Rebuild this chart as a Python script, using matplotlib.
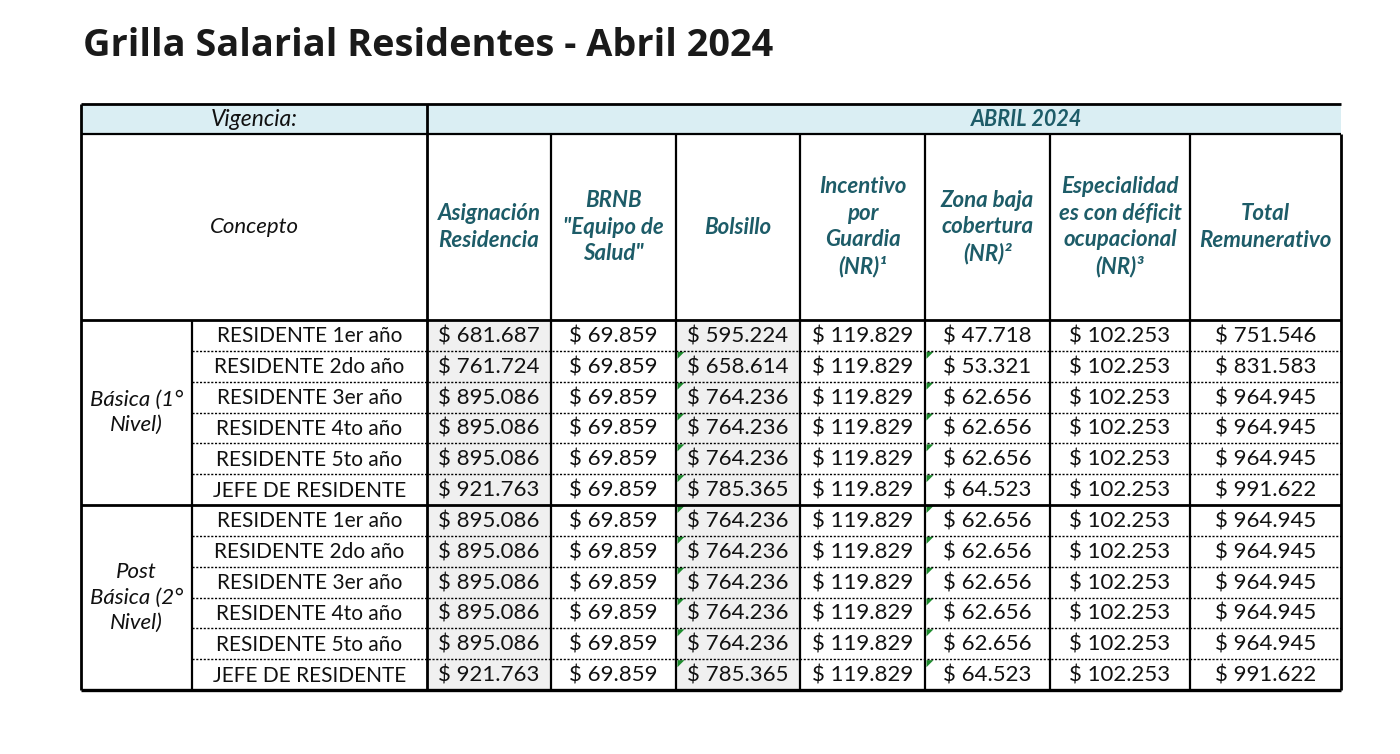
import matplotlib
matplotlib.use("Agg")
import matplotlib.pyplot as plt
from matplotlib.patches import Rectangle, Polygon

# ---------------- data ----------------
title = "Grilla Salarial Residentes - Abril 2024"
vigencia_label = "Vigencia:"
vigencia_value = "ABRIL 2024"
concepto_label = "Concepto"
column_headers = [
    "Asignación\nResidencia",
    "BRNB\n\"Equipo de\nSalud\"",
    "Bolsillo",
    "Incentivo\npor\nGuardia\n(NR)\u00b9",
    "Zona baja\ncobertura\n(NR)\u00b2",
    "Especialidad\nes con déficit\nocupacional\n(NR)\u00b3",
    "Total\nRemunerativo",
]
groups = ["Básica (1°\nNivel)", "Post\nBásica (2°\nNivel)"]
row_labels = ["RESIDENTE 1er año", "RESIDENTE 2do año", "RESIDENTE 3er año",
              "RESIDENTE 4to año", "RESIDENTE 5to año", "JEFE DE RESIDENTE"]

asignacion = [681687, 761724, 895086, 895086, 895086, 921763,
              895086, 895086, 895086, 895086, 895086, 921763]
brnb = [69859] * 12
bolsillo = [595224, 658614, 764236, 764236, 764236, 785365,
            764236, 764236, 764236, 764236, 764236, 785365]
incentivo = [119829] * 12
zona_baja = [47718, 53321, 62656, 62656, 62656, 64523,
             62656, 62656, 62656, 62656, 62656, 64523]
especialidad = [102253] * 12
total = [751546, 831583, 964945, 964945, 964945, 991622,
         964945, 964945, 964945, 964945, 964945, 991622]

series = [asignacion, brnb, bolsillo, incentivo, zona_baja, especialidad, total]

# ---------------- layout (pixel coordinates) ----------------
W, H = 1400, 754
fig = plt.figure(figsize=(W / 100, H / 100), dpi=100)
ax = fig.add_axes([0, 0, 1, 1])
ax.set_xlim(0, W)
ax.set_ylim(H, 0)
ax.axis("off")

FONT = ["Lato", "DejaVu Sans"]
TEAL = "#1d5c68"
HEAD_BG = "#daeef3"
GREY_BG = "#f0f0f0"

col_x = [81, 192, 427, 551, 676, 800, 925, 1050, 1190, 1341]
y_top, y_h1, y_h2 = 104, 134, 320
row_h = (690 - 320) / 12
row_y = [y_h2 + i * row_h for i in range(13)]
vig_center = 1027  # merged header cell continues past the visible right edge

def fmt(v):
    return "$ " + f"{v:,}".replace(",", ".")

# title
ax.text(83, 46, title, fontsize=27.3, fontweight="bold", family=["Open Sans", "DejaVu Sans"],
        color="#1a1a1a", va="center", ha="left")

# header backgrounds
ax.add_patch(Rectangle((col_x[0], y_top), col_x[-1] - col_x[0], y_h1 - y_top,
                       facecolor=HEAD_BG, edgecolor="none", zorder=0))

# grey columns (Asignación and Bolsillo)
for ci in (0, 2):
    x0, x1 = col_x[ci + 2], col_x[ci + 3]
    ax.add_patch(Rectangle((x0, row_y[0]), x1 - x0, row_y[-1] - row_y[0],
                           facecolor=GREY_BG, edgecolor="none", zorder=0))

# header texts
ax.text((col_x[0] + col_x[2]) / 2, (y_top + y_h1) / 2 + 1, vigencia_label, fontsize=16.5,
        style="italic", family=FONT, ha="center", va="center", color="#111111")
ax.text(vig_center, (y_top + y_h1) / 2 + 1, vigencia_value, fontsize=15.5,
        style="italic", fontweight="bold", family=FONT, ha="center", va="center", color=TEAL)
ax.text((col_x[0] + col_x[2]) / 2, (y_h1 + y_h2) / 2, concepto_label, fontsize=16,
        style="italic", family=FONT, ha="center", va="center", color="#111111")
for ci, lab in enumerate(column_headers):
    cx = (col_x[ci + 2] + col_x[ci + 3]) / 2
    ax.text(cx, (y_h1 + y_h2) / 2, lab, fontsize=16, style="italic", fontweight="bold",
            family=FONT, ha="center", va="center", color=TEAL, linespacing=1.32)

# body texts
for r in range(12):
    cy = (row_y[r] + row_y[r + 1]) / 2 + 1
    ax.text((col_x[1] + col_x[2]) / 2, cy, row_labels[r % 6], fontsize=15, family=FONT,
            ha="center", va="center", color="#111111")
    for ci, s in enumerate(series):
        cx = (col_x[ci + 2] + col_x[ci + 3]) / 2
        ax.text(cx, cy, fmt(s[r]), fontsize=16, family=FONT, ha="center", va="center",
                color="#111111")

for g, lab in enumerate(groups):
    cy = (row_y[g * 6] + row_y[g * 6 + 6]) / 2
    ax.text((col_x[0] + col_x[1]) / 2, cy, lab, fontsize=16, style="italic", family=FONT,
            ha="center", va="center", color="#111111", linespacing=1.35)

# green triangles (Excel error markers)
for r in range(1, 12):
    for ci in (2, 4):
        x0 = col_x[ci + 2] + 1.5
        y0 = row_y[r] + 1
        ax.add_patch(Polygon([(x0, y0), (x0 + 7, y0), (x0, y0 + 7)], closed=True,
                             facecolor="#1e8c2e", edgecolor="none", zorder=3))

# grid lines
K = "black"
def hline(y, x0, x1, lw=2.0, ls="-"):
    ax.plot([x0, x1], [y, y], color=K, lw=lw, ls=ls, solid_capstyle="butt", zorder=4)
def vline(x, y0, y1, lw=2.0):
    ax.plot([x, x], [y0, y1], color=K, lw=lw, solid_capstyle="butt", zorder=4)

hline(y_top, col_x[0], col_x[-1], lw=2.0)
hline(y_h1, col_x[0], col_x[-1], lw=1.6)
hline(y_h2, col_x[0], col_x[-1], lw=2.0)
hline(row_y[6], col_x[0], col_x[-1], lw=2.0)
hline(row_y[-1], col_x[0], col_x[-1], lw=2.4)
for r in list(range(1, 6)) + list(range(7, 12)):
    hline(row_y[r], col_x[1], col_x[-1], lw=1.0, ls=(0, (1.5, 1.2)))

vline(col_x[0], y_top, row_y[-1])
vline(col_x[2], y_top, row_y[-1])
vline(col_x[-1], y_h1, row_y[-1])
for x in col_x[3:-1]:
    vline(x, y_h1, row_y[-1], lw=1.6)
vline(col_x[1], y_h2, row_y[-1], lw=1.6)

fig.savefig("out.png", dpi=100)
